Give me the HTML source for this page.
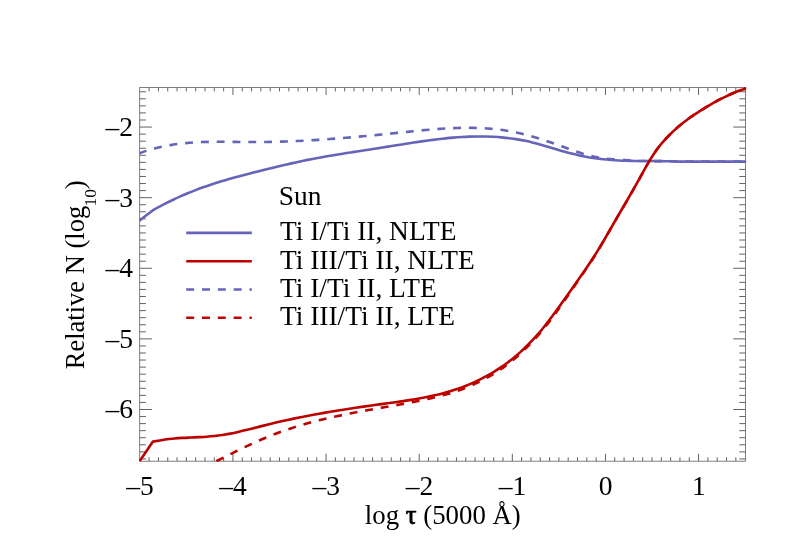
<!DOCTYPE html>
<html><head><meta charset="utf-8"><title>plot</title>
<style>
html,body{margin:0;padding:0;background:#fff;}
body{width:786px;height:550px;overflow:hidden;}
svg{display:block;will-change:transform;}
text{font-family:"Liberation Serif",serif;fill:#000;}
</style></head><body>
<svg width="786" height="550" viewBox="0 0 786 550">
<rect x="0" y="0" width="786" height="550" fill="#ffffff"/>
<defs><clipPath id="cp"><rect x="139.10" y="86.60" width="607.00" height="375.10"/></clipPath></defs>

<path d="M149.11 461.20 L149.11 457.30 M149.11 87.50 L149.11 91.40 M158.43 461.20 L158.43 457.30 M158.43 87.50 L158.43 91.40 M167.74 461.20 L167.74 457.30 M167.74 87.50 L167.74 91.40 M177.05 461.20 L177.05 457.30 M177.05 87.50 L177.05 91.40 M186.37 461.20 L186.37 457.30 M186.37 87.50 L186.37 91.40 M195.68 461.20 L195.68 457.30 M195.68 87.50 L195.68 91.40 M204.99 461.20 L204.99 457.30 M204.99 87.50 L204.99 91.40 M214.30 461.20 L214.30 457.30 M214.30 87.50 L214.30 91.40 M223.62 461.20 L223.62 457.30 M223.62 87.50 L223.62 91.40 M232.93 461.20 L232.93 453.70 M232.93 87.50 L232.93 95.00 M242.24 461.20 L242.24 457.30 M242.24 87.50 L242.24 91.40 M251.56 461.20 L251.56 457.30 M251.56 87.50 L251.56 91.40 M260.87 461.20 L260.87 457.30 M260.87 87.50 L260.87 91.40 M270.18 461.20 L270.18 457.30 M270.18 87.50 L270.18 91.40 M279.50 461.20 L279.50 457.30 M279.50 87.50 L279.50 91.40 M288.81 461.20 L288.81 457.30 M288.81 87.50 L288.81 91.40 M298.12 461.20 L298.12 457.30 M298.12 87.50 L298.12 91.40 M307.43 461.20 L307.43 457.30 M307.43 87.50 L307.43 91.40 M316.75 461.20 L316.75 457.30 M316.75 87.50 L316.75 91.40 M326.06 461.20 L326.06 453.70 M326.06 87.50 L326.06 95.00 M335.37 461.20 L335.37 457.30 M335.37 87.50 L335.37 91.40 M344.69 461.20 L344.69 457.30 M344.69 87.50 L344.69 91.40 M354.00 461.20 L354.00 457.30 M354.00 87.50 L354.00 91.40 M363.31 461.20 L363.31 457.30 M363.31 87.50 L363.31 91.40 M372.62 461.20 L372.62 457.30 M372.62 87.50 L372.62 91.40 M381.94 461.20 L381.94 457.30 M381.94 87.50 L381.94 91.40 M391.25 461.20 L391.25 457.30 M391.25 87.50 L391.25 91.40 M400.56 461.20 L400.56 457.30 M400.56 87.50 L400.56 91.40 M409.88 461.20 L409.88 457.30 M409.88 87.50 L409.88 91.40 M419.19 461.20 L419.19 453.70 M419.19 87.50 L419.19 95.00 M428.50 461.20 L428.50 457.30 M428.50 87.50 L428.50 91.40 M437.82 461.20 L437.82 457.30 M437.82 87.50 L437.82 91.40 M447.13 461.20 L447.13 457.30 M447.13 87.50 L447.13 91.40 M456.44 461.20 L456.44 457.30 M456.44 87.50 L456.44 91.40 M465.75 461.20 L465.75 457.30 M465.75 87.50 L465.75 91.40 M475.07 461.20 L475.07 457.30 M475.07 87.50 L475.07 91.40 M484.38 461.20 L484.38 457.30 M484.38 87.50 L484.38 91.40 M493.69 461.20 L493.69 457.30 M493.69 87.50 L493.69 91.40 M503.01 461.20 L503.01 457.30 M503.01 87.50 L503.01 91.40 M512.32 461.20 L512.32 453.70 M512.32 87.50 L512.32 95.00 M521.63 461.20 L521.63 457.30 M521.63 87.50 L521.63 91.40 M530.95 461.20 L530.95 457.30 M530.95 87.50 L530.95 91.40 M540.26 461.20 L540.26 457.30 M540.26 87.50 L540.26 91.40 M549.57 461.20 L549.57 457.30 M549.57 87.50 L549.57 91.40 M558.88 461.20 L558.88 457.30 M558.88 87.50 L558.88 91.40 M568.20 461.20 L568.20 457.30 M568.20 87.50 L568.20 91.40 M577.51 461.20 L577.51 457.30 M577.51 87.50 L577.51 91.40 M586.82 461.20 L586.82 457.30 M586.82 87.50 L586.82 91.40 M596.14 461.20 L596.14 457.30 M596.14 87.50 L596.14 91.40 M605.45 461.20 L605.45 453.70 M605.45 87.50 L605.45 95.00 M614.76 461.20 L614.76 457.30 M614.76 87.50 L614.76 91.40 M624.08 461.20 L624.08 457.30 M624.08 87.50 L624.08 91.40 M633.39 461.20 L633.39 457.30 M633.39 87.50 L633.39 91.40 M642.70 461.20 L642.70 457.30 M642.70 87.50 L642.70 91.40 M652.01 461.20 L652.01 457.30 M652.01 87.50 L652.01 91.40 M661.33 461.20 L661.33 457.30 M661.33 87.50 L661.33 91.40 M670.64 461.20 L670.64 457.30 M670.64 87.50 L670.64 91.40 M679.95 461.20 L679.95 457.30 M679.95 87.50 L679.95 91.40 M689.27 461.20 L689.27 457.30 M689.27 87.50 L689.27 91.40 M698.58 461.20 L698.58 453.70 M698.58 87.50 L698.58 95.00 M707.89 461.20 L707.89 457.30 M707.89 87.50 L707.89 91.40 M717.21 461.20 L717.21 457.30 M717.21 87.50 L717.21 91.40 M726.52 461.20 L726.52 457.30 M726.52 87.50 L726.52 91.40 M735.83 461.20 L735.83 457.30 M735.83 87.50 L735.83 91.40 M139.70 458.92 L145.90 458.92 M745.50 458.92 L739.30 458.92 M139.70 451.86 L145.90 451.86 M745.50 451.86 L739.30 451.86 M139.70 444.80 L145.90 444.80 M745.50 444.80 L739.30 444.80 M139.70 437.73 L145.90 437.73 M745.50 437.73 L739.30 437.73 M139.70 430.67 L145.90 430.67 M745.50 430.67 L739.30 430.67 M139.70 423.61 L145.90 423.61 M745.50 423.61 L739.30 423.61 M139.70 416.55 L145.90 416.55 M745.50 416.55 L739.30 416.55 M139.70 409.49 L151.90 409.49 M745.50 409.49 L733.30 409.49 M139.70 402.43 L145.90 402.43 M745.50 402.43 L739.30 402.43 M139.70 395.37 L145.90 395.37 M745.50 395.37 L739.30 395.37 M139.70 388.31 L145.90 388.31 M745.50 388.31 L739.30 388.31 M139.70 381.25 L145.90 381.25 M745.50 381.25 L739.30 381.25 M139.70 374.19 L145.90 374.19 M745.50 374.19 L739.30 374.19 M139.70 367.12 L145.90 367.12 M745.50 367.12 L739.30 367.12 M139.70 360.06 L145.90 360.06 M745.50 360.06 L739.30 360.06 M139.70 353.00 L145.90 353.00 M745.50 353.00 L739.30 353.00 M139.70 345.94 L145.90 345.94 M745.50 345.94 L739.30 345.94 M139.70 338.88 L151.90 338.88 M745.50 338.88 L733.30 338.88 M139.70 331.82 L145.90 331.82 M745.50 331.82 L739.30 331.82 M139.70 324.76 L145.90 324.76 M745.50 324.76 L739.30 324.76 M139.70 317.70 L145.90 317.70 M745.50 317.70 L739.30 317.70 M139.70 310.64 L145.90 310.64 M745.50 310.64 L739.30 310.64 M139.70 303.57 L145.90 303.57 M745.50 303.57 L739.30 303.57 M139.70 296.51 L145.90 296.51 M745.50 296.51 L739.30 296.51 M139.70 289.45 L145.90 289.45 M745.50 289.45 L739.30 289.45 M139.70 282.39 L145.90 282.39 M745.50 282.39 L739.30 282.39 M139.70 275.33 L145.90 275.33 M745.50 275.33 L739.30 275.33 M139.70 268.27 L151.90 268.27 M745.50 268.27 L733.30 268.27 M139.70 261.21 L145.90 261.21 M745.50 261.21 L739.30 261.21 M139.70 254.15 L145.90 254.15 M745.50 254.15 L739.30 254.15 M139.70 247.09 L145.90 247.09 M745.50 247.09 L739.30 247.09 M139.70 240.03 L145.90 240.03 M745.50 240.03 L739.30 240.03 M139.70 232.96 L145.90 232.96 M745.50 232.96 L739.30 232.96 M139.70 225.90 L145.90 225.90 M745.50 225.90 L739.30 225.90 M139.70 218.84 L145.90 218.84 M745.50 218.84 L739.30 218.84 M139.70 211.78 L145.90 211.78 M745.50 211.78 L739.30 211.78 M139.70 204.72 L145.90 204.72 M745.50 204.72 L739.30 204.72 M139.70 197.66 L151.90 197.66 M745.50 197.66 L733.30 197.66 M139.70 190.60 L145.90 190.60 M745.50 190.60 L739.30 190.60 M139.70 183.54 L145.90 183.54 M745.50 183.54 L739.30 183.54 M139.70 176.48 L145.90 176.48 M745.50 176.48 L739.30 176.48 M139.70 169.42 L145.90 169.42 M745.50 169.42 L739.30 169.42 M139.70 162.35 L145.90 162.35 M745.50 162.35 L739.30 162.35 M139.70 155.29 L145.90 155.29 M745.50 155.29 L739.30 155.29 M139.70 148.23 L145.90 148.23 M745.50 148.23 L739.30 148.23 M139.70 141.17 L145.90 141.17 M745.50 141.17 L739.30 141.17 M139.70 134.11 L145.90 134.11 M745.50 134.11 L739.30 134.11 M139.70 127.05 L151.90 127.05 M745.50 127.05 L733.30 127.05 M139.70 119.99 L145.90 119.99 M745.50 119.99 L739.30 119.99 M139.70 112.93 L145.90 112.93 M745.50 112.93 L739.30 112.93 M139.70 105.87 L145.90 105.87 M745.50 105.87 L739.30 105.87 M139.70 98.81 L145.90 98.81 M745.50 98.81 L739.30 98.81 M139.70 91.75 L145.90 91.75 M745.50 91.75 L739.30 91.75" stroke="#636363" stroke-width="1" fill="none"/>
<rect x="139.70" y="87.50" width="605.80" height="373.70" fill="none" stroke="#606060" stroke-width="0.8"/>
<g clip-path="url(#cp)" fill="none" stroke-linejoin="round">
<path d="M139.50 153.30 C142.00 152.44 144.47 151.51 146.99 150.71 C149.51 149.91 152.06 149.17 154.62 148.49 C157.18 147.82 159.76 147.20 162.35 146.65 C164.94 146.09 167.55 145.59 170.17 145.15 C172.79 144.70 175.42 144.32 178.06 143.97 C180.70 143.63 183.34 143.34 185.99 143.09 C188.64 142.84 191.30 142.64 193.96 142.47 C196.62 142.30 199.28 142.18 201.94 142.07 C204.61 141.97 207.27 141.91 209.94 141.86 C212.60 141.81 215.27 141.79 217.94 141.78 C220.60 141.77 223.27 141.78 225.94 141.80 C228.60 141.82 231.27 141.85 233.94 141.88 C236.60 141.91 239.27 141.95 241.94 141.97 C244.60 142.00 247.27 142.03 249.93 142.04 C252.60 142.05 255.27 142.06 257.93 142.04 C260.60 142.03 263.27 142.01 265.93 141.97 C268.60 141.93 271.27 141.88 273.93 141.82 C276.60 141.76 279.27 141.69 281.93 141.60 C284.60 141.52 287.26 141.42 289.93 141.32 C292.59 141.21 295.26 141.10 297.92 140.97 C300.59 140.85 303.25 140.71 305.91 140.57 C308.58 140.42 311.24 140.27 313.90 140.11 C316.56 139.95 319.23 139.77 321.89 139.60 C324.55 139.42 327.21 139.23 329.87 139.04 C332.53 138.84 335.19 138.64 337.85 138.43 C340.51 138.22 343.16 138.01 345.82 137.79 C348.48 137.57 351.14 137.34 353.79 137.11 C356.45 136.87 359.11 136.63 361.76 136.39 C364.42 136.15 367.08 135.90 369.73 135.64 C372.39 135.39 375.04 135.13 377.69 134.87 C380.35 134.61 383.00 134.35 385.66 134.08 C388.31 133.81 390.96 133.54 393.62 133.26 C396.27 132.99 398.92 132.71 401.57 132.44 C404.23 132.16 406.88 131.88 409.53 131.61 C412.18 131.33 414.83 131.06 417.49 130.80 C420.14 130.54 422.79 130.28 425.45 130.04 C428.10 129.80 430.76 129.57 433.42 129.36 C436.07 129.15 438.73 128.95 441.39 128.77 C444.05 128.59 446.71 128.43 449.37 128.30 C452.03 128.17 454.70 128.06 457.36 127.98 C460.03 127.90 462.69 127.85 465.36 127.83 C468.02 127.81 470.69 127.82 473.36 127.88 C476.03 127.93 478.69 128.01 481.36 128.14 C484.02 128.27 486.69 128.44 489.35 128.66 C492.01 128.87 494.67 129.13 497.32 129.44 C499.98 129.74 502.63 130.10 505.27 130.51 C507.91 130.91 510.55 131.37 513.18 131.88 C515.80 132.40 518.42 132.97 521.03 133.58 C523.63 134.20 526.23 134.88 528.81 135.58 C531.39 136.29 533.96 137.05 536.53 137.82 C539.09 138.60 541.63 139.42 544.18 140.25 C546.72 141.09 549.25 141.95 551.78 142.82 C554.30 143.69 556.82 144.59 559.34 145.48 C561.85 146.38 564.36 147.30 566.87 148.20 C569.38 149.09 571.88 150.01 574.39 150.88 C576.91 151.74 579.42 152.61 581.95 153.40 C584.48 154.18 587.02 154.95 589.58 155.61 C592.14 156.27 594.72 156.86 597.32 157.35 C599.92 157.84 602.55 158.22 605.18 158.55 C607.82 158.88 610.47 159.12 613.13 159.34 C615.78 159.56 619.12 159.75 621.10 159.87 C623.08 160.00 622.70 159.92 625.00 160.10 C627.30 160.27 631.90 160.78 634.88 160.93 C637.87 161.08 640.22 161.00 642.88 161.02 C645.55 161.04 648.22 161.05 650.88 161.07 C653.55 161.09 656.22 161.10 658.88 161.12 C661.55 161.15 664.22 161.17 666.88 161.22 C669.55 161.27 672.70 161.35 674.88 161.41 C677.07 161.48 675.81 161.57 680.00 161.61 C684.19 161.64 693.33 161.60 700.00 161.60 C706.67 161.60 712.42 161.60 720.00 161.60 C727.58 161.60 740.50 161.60 745.50 161.60 C750.50 161.60 748.50 161.60 750.00 161.60" stroke="#6464b9" stroke-width="2.6" stroke-dasharray="7.9 7.9" stroke-dashoffset="0.5"/>
<path d="M139.50 220.60 C141.67 218.92 143.82 217.23 146.00 215.55 C148.18 213.86 150.40 212.18 152.60 210.50 C154.91 209.21 157.20 207.89 159.53 206.63 C161.86 205.37 164.20 204.14 166.57 202.95 C168.93 201.75 171.31 200.59 173.71 199.46 C176.10 198.33 178.51 197.23 180.94 196.16 C183.37 195.09 185.81 194.05 188.26 193.04 C190.71 192.03 193.18 191.05 195.66 190.10 C198.14 189.15 200.63 188.23 203.13 187.34 C205.63 186.44 208.14 185.58 210.66 184.73 C213.18 183.89 215.71 183.08 218.25 182.28 C220.79 181.49 223.33 180.72 225.89 179.97 C228.44 179.22 231.00 178.49 233.56 177.78 C236.13 177.07 238.70 176.37 241.27 175.69 C243.84 175.01 246.42 174.34 249.00 173.68 C251.58 173.02 254.17 172.37 256.75 171.72 C259.34 171.08 261.93 170.44 264.52 169.80 C267.10 169.16 269.69 168.52 272.28 167.89 C274.87 167.26 277.46 166.62 280.05 166.00 C282.64 165.38 285.24 164.76 287.83 164.16 C290.43 163.56 293.02 162.97 295.63 162.40 C298.23 161.82 300.83 161.26 303.44 160.72 C306.04 160.18 308.66 159.66 311.27 159.16 C313.89 158.65 316.50 158.16 319.12 157.68 C321.75 157.20 324.37 156.73 326.99 156.28 C329.62 155.82 332.25 155.38 334.88 154.94 C337.51 154.51 340.14 154.08 342.77 153.66 C345.40 153.24 348.04 152.83 350.67 152.42 C353.30 152.01 355.94 151.60 358.57 151.20 C361.21 150.79 363.85 150.39 366.48 149.99 C369.12 149.59 371.75 149.19 374.39 148.78 C377.03 148.37 379.66 147.97 382.30 147.55 C384.93 147.14 387.57 146.72 390.20 146.30 C392.84 145.88 395.47 145.46 398.10 145.04 C400.73 144.62 403.37 144.20 406.00 143.79 C408.63 143.37 411.27 142.96 413.90 142.56 C416.54 142.16 419.18 141.77 421.81 141.39 C424.45 141.01 427.09 140.64 429.73 140.29 C432.37 139.94 435.02 139.60 437.66 139.28 C440.31 138.97 442.95 138.67 445.60 138.40 C448.25 138.12 450.91 137.87 453.56 137.65 C456.22 137.43 458.87 137.23 461.53 137.06 C464.19 136.90 466.86 136.76 469.52 136.66 C472.18 136.56 474.85 136.49 477.51 136.47 C480.18 136.44 482.85 136.45 485.51 136.50 C488.18 136.56 490.85 136.65 493.51 136.79 C496.18 136.93 498.84 137.11 501.50 137.35 C504.16 137.59 506.82 137.87 509.47 138.20 C512.12 138.54 514.77 138.92 517.41 139.36 C520.04 139.81 522.68 140.30 525.30 140.85 C527.92 141.40 530.53 142.01 533.13 142.66 C535.72 143.31 538.31 144.02 540.88 144.73 C543.46 145.45 546.02 146.21 548.59 146.96 C551.15 147.71 553.70 148.49 556.26 149.25 C558.82 150.00 561.37 150.77 563.93 151.49 C566.49 152.22 569.05 152.94 571.62 153.61 C574.19 154.28 576.76 154.93 579.36 155.50 C581.95 156.08 584.55 156.61 587.16 157.08 C589.77 157.54 592.40 157.95 595.04 158.32 C597.67 158.69 600.31 159.00 602.96 159.27 C605.61 159.55 608.26 159.77 610.92 159.97 C613.57 160.17 616.24 160.32 618.90 160.45 C621.56 160.58 624.22 160.67 626.89 160.76 C629.55 160.84 632.22 160.89 634.88 160.93 C637.55 160.98 640.22 161.00 642.88 161.02 C645.55 161.04 648.22 161.05 650.88 161.07 C653.55 161.09 656.22 161.10 658.88 161.12 C661.55 161.15 664.22 161.17 666.88 161.22 C669.55 161.27 672.70 161.35 674.88 161.41 C677.07 161.48 675.81 161.57 680.00 161.61 C684.19 161.64 693.33 161.60 700.00 161.60 C706.67 161.60 712.42 161.60 720.00 161.60 C727.58 161.60 740.50 161.60 745.50 161.60 C750.50 161.60 748.50 161.60 750.00 161.60" stroke="#6464b9" stroke-width="2.6"/>
<path d="M203.50 467.80 C205.87 466.58 208.24 465.36 210.62 464.15 C212.99 462.93 215.36 461.72 217.74 460.51 C220.11 459.30 222.48 458.09 224.86 456.89 C227.24 455.69 229.62 454.50 232.01 453.32 C234.39 452.14 236.78 450.96 239.17 449.81 C241.57 448.65 243.97 447.50 246.38 446.37 C248.78 445.24 251.19 444.12 253.61 443.02 C256.04 441.93 258.46 440.85 260.90 439.79 C263.34 438.74 265.79 437.70 268.24 436.70 C270.70 435.69 273.17 434.71 275.64 433.76 C278.12 432.80 280.61 431.88 283.11 430.99 C285.61 430.10 288.13 429.24 290.65 428.41 C293.17 427.58 295.71 426.78 298.25 426.00 C300.79 425.23 303.34 424.48 305.90 423.76 C308.46 423.03 311.03 422.34 313.60 421.66 C316.17 420.99 318.75 420.34 321.34 419.71 C323.92 419.08 326.51 418.47 329.11 417.88 C331.71 417.29 334.31 416.72 336.91 416.16 C339.51 415.60 342.12 415.07 344.73 414.54 C347.35 414.01 349.96 413.50 352.58 413.00 C355.19 412.49 357.81 412.00 360.43 411.52 C363.05 411.03 365.68 410.56 368.30 410.09 C370.92 409.62 373.55 409.15 376.17 408.69 C378.80 408.22 381.43 407.76 384.05 407.30 C386.68 406.83 389.31 406.37 391.93 405.90 C394.56 405.43 397.18 404.96 399.81 404.48 C402.43 404.00 405.06 403.52 407.68 403.03 C410.30 402.53 412.92 402.03 415.54 401.51 C418.16 400.99 420.77 400.47 423.39 399.91 C426.00 399.36 428.61 398.79 431.22 398.19 C433.82 397.59 436.42 396.97 439.01 396.30 C441.60 395.63 444.19 394.94 446.76 394.19 C449.33 393.45 451.90 392.67 454.45 391.83 C457.00 391.00 459.53 390.12 462.05 389.19 C464.57 388.25 467.07 387.27 469.55 386.22 C472.03 385.18 474.50 384.08 476.93 382.93 C479.36 381.77 481.78 380.56 484.16 379.29 C486.54 378.02 488.89 376.69 491.21 375.30 C493.54 373.92 495.83 372.48 498.09 370.98 C500.34 369.49 502.57 367.93 504.75 366.33 C506.94 364.73 509.09 363.08 511.21 361.38 C513.33 359.68 515.41 357.93 517.45 356.15 C519.49 354.36 521.49 352.52 523.46 350.65 C525.43 348.78 527.36 346.87 529.26 344.92 C531.16 342.98 533.02 340.99 534.84 338.98 C536.67 336.97 538.46 334.92 540.22 332.85 C541.98 330.78 543.70 328.67 545.39 326.55 C547.09 324.43 548.74 322.29 550.38 320.13 C552.02 317.98 553.62 315.80 555.21 313.62 C556.80 311.44 558.37 309.25 559.92 307.06 C561.48 304.86 563.01 302.66 564.54 300.45 C566.07 298.25 567.59 296.03 569.10 293.82 C570.61 291.61 572.11 289.40 573.61 287.19 C575.11 284.98 576.60 282.76 578.09 280.55 C579.59 278.35 581.08 276.14 582.58 273.94 C584.07 271.74 585.57 269.56 587.07 267.35 C588.57 265.14 590.10 262.95 591.59 260.70 C593.09 258.45 594.59 256.17 596.04 253.85 C597.49 251.53 598.91 249.13 600.29 246.78 C601.66 244.43 602.98 242.06 604.30 239.74 C605.62 237.41 607.33 234.39 608.23 232.82 C609.13 231.24 608.61 232.17 609.70 230.29 C610.79 228.42 613.26 224.17 614.77 221.57 C616.28 218.96 617.43 216.97 618.76 214.67 C620.10 212.37 621.44 210.07 622.79 207.77 C624.13 205.46 625.48 203.16 626.82 200.85 C628.16 198.54 629.50 196.22 630.84 193.90 C632.17 191.58 633.51 189.25 634.83 186.92 C636.15 184.58 637.47 182.23 638.77 179.89 C640.08 177.54 641.36 175.18 642.66 172.86 C643.95 170.53 645.22 168.22 646.53 165.94 C647.83 163.66 649.13 161.39 650.48 159.19 C651.84 156.98 653.20 154.81 654.64 152.71 C656.09 150.61 657.58 148.58 659.16 146.57 C660.74 144.56 662.40 142.60 664.11 140.67 C665.82 138.74 667.60 136.84 669.43 134.99 C671.25 133.14 673.12 131.34 675.04 129.59 C676.96 127.84 678.93 126.14 680.95 124.50 C682.97 122.85 685.05 121.26 687.16 119.70 C689.27 118.15 691.43 116.65 693.61 115.17 C695.79 113.70 698.01 112.25 700.24 110.84 C702.47 109.42 704.72 108.02 706.99 106.67 C709.26 105.31 711.54 103.98 713.85 102.69 C716.16 101.41 718.49 100.15 720.84 98.95 C723.19 97.75 725.56 96.58 727.95 95.47 C730.35 94.36 732.77 93.29 735.21 92.29 C737.65 91.29 740.12 90.34 742.61 89.46 C745.10 88.58 748.59 87.52 750.15 87.03 C751.72 86.54 751.38 86.68 752.00 86.51" stroke="#bd0000" stroke-width="2.6" stroke-dasharray="7.9 7.9" stroke-dashoffset="1.4"/>
<path d="M139.50 461.20 C143.97 454.67 148.43 448.13 152.90 441.60 C157.47 440.83 162.03 440.07 166.60 439.30 C169.25 439.02 171.88 438.70 174.54 438.47 C177.19 438.24 179.85 438.08 182.51 437.92 C185.17 437.76 187.83 437.65 190.49 437.53 C193.16 437.40 195.82 437.30 198.49 437.17 C201.15 437.03 203.82 436.90 206.48 436.71 C209.14 436.52 211.80 436.31 214.46 436.02 C217.11 435.74 219.77 435.39 222.41 434.99 C225.06 434.59 227.69 434.11 230.32 433.60 C232.95 433.09 235.56 432.52 238.17 431.93 C240.78 431.34 243.38 430.71 245.97 430.08 C248.57 429.44 251.15 428.77 253.74 428.12 C256.33 427.46 258.91 426.78 261.49 426.13 C264.07 425.48 266.65 424.82 269.24 424.19 C271.83 423.56 274.42 422.94 277.01 422.34 C279.61 421.74 282.21 421.15 284.81 420.57 C287.41 420.00 290.01 419.44 292.62 418.89 C295.22 418.34 297.83 417.81 300.45 417.28 C303.06 416.76 305.67 416.25 308.29 415.75 C310.91 415.25 313.53 414.76 316.15 414.28 C318.77 413.80 321.39 413.33 324.02 412.88 C326.64 412.42 329.27 411.97 331.90 411.53 C334.53 411.09 337.16 410.66 339.79 410.24 C342.42 409.81 345.05 409.40 347.69 408.99 C350.32 408.58 352.96 408.18 355.59 407.79 C358.23 407.40 360.87 407.01 363.51 406.63 C366.14 406.24 368.78 405.87 371.42 405.50 C374.06 405.12 376.70 404.76 379.35 404.39 C381.99 404.03 384.63 403.67 387.27 403.31 C389.91 402.95 392.56 402.59 395.20 402.22 C397.84 401.85 400.48 401.48 403.12 401.09 C405.76 400.70 408.40 400.31 411.04 399.88 C413.67 399.46 416.31 399.02 418.94 398.54 C421.56 398.07 424.19 397.58 426.81 397.05 C429.43 396.52 432.05 395.96 434.65 395.35 C437.26 394.75 439.86 394.11 442.45 393.42 C445.03 392.74 447.62 392.01 450.18 391.23 C452.75 390.46 455.30 389.63 457.84 388.76 C460.37 387.88 462.90 386.95 465.40 385.97 C467.90 384.98 470.39 383.95 472.85 382.86 C475.31 381.77 477.75 380.62 480.16 379.42 C482.57 378.21 484.96 376.96 487.32 375.65 C489.68 374.33 492.01 372.97 494.31 371.55 C496.61 370.13 498.88 368.66 501.12 367.14 C503.36 365.62 505.57 364.04 507.74 362.42 C509.91 360.80 512.05 359.12 514.15 357.40 C516.24 355.68 518.31 353.91 520.33 352.10 C522.36 350.29 524.34 348.43 526.29 346.53 C528.24 344.63 530.15 342.69 532.02 340.72 C533.89 338.74 535.72 336.73 537.52 334.68 C539.32 332.64 541.08 330.56 542.80 328.45 C544.53 326.35 546.21 324.21 547.87 322.07 C549.53 319.92 551.15 317.76 552.75 315.59 C554.36 313.42 555.94 311.24 557.51 309.06 C559.08 306.88 560.63 304.70 562.18 302.51 C563.73 300.33 565.27 298.15 566.81 295.98 C568.35 293.80 569.89 291.63 571.43 289.46 C572.98 287.29 574.53 285.12 576.07 282.93 C577.61 280.75 579.16 278.56 580.69 276.37 C582.23 274.17 583.76 271.96 585.27 269.74 C586.79 267.52 588.30 265.28 589.79 263.03 C591.27 260.79 592.75 258.52 594.20 256.24 C595.66 253.97 597.10 251.67 598.51 249.36 C599.92 247.06 601.31 244.73 602.69 242.41 C604.06 240.10 605.41 237.77 606.76 235.45 C608.11 233.13 609.44 230.81 610.78 228.50 C612.11 226.18 613.43 223.87 614.77 221.57 C616.10 219.26 617.43 216.97 618.76 214.67 C620.10 212.37 621.44 210.07 622.79 207.77 C624.13 205.46 625.48 203.16 626.82 200.85 C628.16 198.54 629.50 196.22 630.84 193.90 C632.17 191.58 633.51 189.25 634.83 186.92 C636.15 184.58 637.47 182.23 638.77 179.89 C640.08 177.54 641.36 175.18 642.66 172.86 C643.95 170.53 645.22 168.22 646.53 165.94 C647.83 163.66 649.13 161.39 650.48 159.19 C651.84 156.98 653.20 154.81 654.64 152.71 C656.09 150.61 657.58 148.58 659.16 146.57 C660.74 144.56 662.40 142.60 664.11 140.67 C665.82 138.74 667.60 136.84 669.43 134.99 C671.25 133.14 673.12 131.34 675.04 129.59 C676.96 127.84 678.93 126.14 680.95 124.50 C682.97 122.85 685.05 121.26 687.16 119.70 C689.27 118.15 691.43 116.65 693.61 115.17 C695.79 113.70 698.01 112.25 700.24 110.84 C702.47 109.42 704.72 108.02 706.99 106.67 C709.26 105.31 711.54 103.98 713.85 102.69 C716.16 101.41 718.49 100.15 720.84 98.95 C723.19 97.75 725.56 96.58 727.95 95.47 C730.35 94.36 732.77 93.29 735.21 92.29 C737.65 91.29 740.12 90.34 742.61 89.46 C745.10 88.58 748.59 87.52 750.15 87.03 C751.72 86.54 751.38 86.68 752.00 86.51" stroke="#bd0000" stroke-width="2.6"/>
</g>
<path d="M186.2 232.9 H251.8" stroke="#6464b9" stroke-width="2.6"/>
<path d="M186.2 261.2 H251.8" stroke="#bd0000" stroke-width="2.6"/>
<path d="M186.2 289.5 H251.8" stroke="#6464b9" stroke-width="2.6" stroke-dasharray="7.95 7.87"/>
<path d="M186.2 317.8 H251.8" stroke="#bd0000" stroke-width="2.6" stroke-dasharray="7.95 7.87"/>
<text x="278.8" y="204.9" font-size="27.4">Sun</text>
<text x="280" y="240.4" font-size="27.4">Ti I/Ti II, NLTE</text>
<text x="280" y="268.7" font-size="27.4">Ti III/Ti II, NLTE</text>
<text x="280" y="296.8" font-size="27.4">Ti I/Ti II, LTE</text>
<text x="280" y="325.0" font-size="27.4">Ti III/Ti II, LTE</text>
<text x="140.0" y="495.1" font-size="27.5" text-anchor="middle">–5</text>
<text x="233.1" y="495.1" font-size="27.5" text-anchor="middle">–4</text>
<text x="326.3" y="495.1" font-size="27.5" text-anchor="middle">–3</text>
<text x="419.4" y="495.1" font-size="27.5" text-anchor="middle">–2</text>
<text x="512.5" y="495.1" font-size="27.5" text-anchor="middle">–1</text>
<text x="605.7" y="495.1" font-size="27.5" text-anchor="middle">0</text>
<text x="698.8" y="495.1" font-size="27.5" text-anchor="middle">1</text>
<text x="133" y="418.4" font-size="27.5" text-anchor="end">–6</text>
<text x="133" y="347.8" font-size="27.5" text-anchor="end">–5</text>
<text x="133" y="277.2" font-size="27.5" text-anchor="end">–4</text>
<text x="133" y="206.6" font-size="27.5" text-anchor="end">–3</text>
<text x="133" y="135.9" font-size="27.5" text-anchor="end">–2</text>
<text x="442.8" y="523.6" font-size="26.8" text-anchor="middle">log <tspan stroke="#000" stroke-width="0.75" stroke-linejoin="round">τ</tspan> (5000 Å)</text>
<text id="ylab" transform="translate(84.2 369.2) rotate(-90)" font-size="26.5">Relative N (log<tspan font-size="17.5" dy="11.6" dx="-0.6">10</tspan><tspan dy="-11.6" dx="-0.4">)</tspan></text>
</svg></body></html>
